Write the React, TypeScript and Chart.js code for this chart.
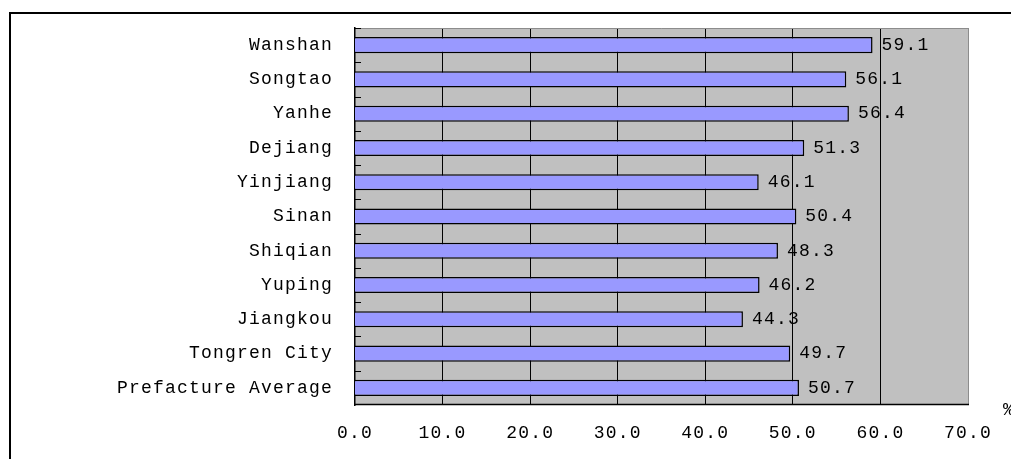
import { useEffect, useRef } from "react";
import { Chart, registerables } from "chart.js";

Chart.register(...registerables);

// Counties (top to bottom) and their rates, in percent
const counties = [
  "Wanshan",
  "Songtao",
  "Yanhe",
  "Dejiang",
  "Yinjiang",
  "Sinan",
  "Shiqian",
  "Yuping",
  "Jiangkou",
  "Tongren City",
  "Prefacture Average",
];
const rates = [59.1, 56.1, 56.4, 51.3, 46.1, 50.4, 48.3, 46.2, 44.3, 49.7, 50.7];
const axisMin = 0;
const axisMax = 70;
const axisStep = 10;
const unitLabel = "%";

const FONT_FAMILY = '"Liberation Mono", "DejaVu Sans Mono", monospace';
const FONT_SIZE = 18;
const LETTER_SPACING = "1.2px";

const PLOT = { left: 355, top: 28, right: 968, bottom: 405 };

const decorPlugin = {
  id: "decor",
  beforeDraw(chart: any) {
    chart.ctx.letterSpacing = LETTER_SPACING;
  },
  afterDatasetsDraw(chart: any) {
    const { ctx, chartArea } = chart;
    const xs = chart.scales.x;
    const ys = chart.scales.y;
    const meta = chart.getDatasetMeta(0);
    ctx.save();
    // plot frame: grey top and right, dark bottom
    ctx.lineWidth = 1;
    ctx.strokeStyle = "#8c8c8c";
    ctx.beginPath();
    ctx.moveTo(chartArea.left, chartArea.top + 0.5);
    ctx.lineTo(chartArea.right + 0.5, chartArea.top + 0.5);
    ctx.lineTo(chartArea.right + 0.5, chartArea.bottom);
    ctx.stroke();
    ctx.strokeStyle = "#000";
    ctx.lineWidth = 1.5;
    ctx.beginPath();
    ctx.moveTo(chartArea.left, chartArea.bottom - 0.5);
    ctx.lineTo(chartArea.right + 1, chartArea.bottom - 0.5);
    ctx.stroke();
    // short tick marks on the category axis, at category boundaries
    ctx.lineWidth = 1;
    const n = counties.length;
    const step = (chartArea.bottom - chartArea.top) / n;
    ctx.beginPath();
    for (let i = 0; i < n; i++) {
      const y = Math.round(ys.getPixelForValue(i) - step / 2) + 0.5;
      ctx.moveTo(chartArea.left, y);
      ctx.lineTo(chartArea.left + 6, y);
    }
    ctx.stroke();
    // value labels to the right of each bar
    ctx.fillStyle = "#000";
    ctx.font = `${FONT_SIZE}px ${FONT_FAMILY}`;
    ctx.textAlign = "left";
    ctx.textBaseline = "middle";
    meta.data.forEach((bar: any, i: number) => {
      const x = xs.getPixelForValue(rates[i]) + 9;
      ctx.fillText(rates[i].toFixed(1), x, bar.y);
    });
    ctx.restore();
  },
  afterDraw(chart: any) {
    const { ctx, width, height, chartArea } = chart;
    ctx.save();
    // outer border running off the right and bottom edges
    ctx.fillStyle = "#000";
    ctx.fillRect(9, 12, 2, height - 12);
    ctx.fillRect(9, 12, width - 9, 2);
    // unit mark beside the last value tick
    ctx.font = `${FONT_SIZE}px ${FONT_FAMILY}`;
    ctx.textAlign = "left";
    ctx.textBaseline = "middle";
    ctx.fillText(unitLabel, chartArea.right + 35, chartArea.bottom + 5);
    ctx.restore();
  },
};

export default function App() {
  const canvasRef = useRef<HTMLCanvasElement>(null);

  useEffect(() => {
    const canvas = canvasRef.current;
    if (!canvas) return;
    const chart = new Chart(canvas, {
      type: "bar",
      data: {
        labels: counties,
        datasets: [
          {
            data: rates,
            backgroundColor: "#9999ff",
            borderColor: "#000",
            borderWidth: 1.5,
            barPercentage: 0.47,
            categoryPercentage: 1,
          },
        ],
      },
      options: {
        indexAxis: "y",
        responsive: false,
        animation: false,
        devicePixelRatio: 1,
        layout: { padding: { top: 0, right: 0, left: 0, bottom: 0 } },
        plugins: {
          legend: { display: false },
          tooltip: { enabled: false },
        },
        scales: {
          x: {
            min: axisMin,
            max: axisMax,
            afterFit: (s: any) => {
              s.height = 459 - PLOT.bottom;
              s.paddingLeft = 0;
              s.paddingRight = 0;
            },
            ticks: {
              stepSize: axisStep,
              color: "#000",
              padding: 17,
              font: { family: FONT_FAMILY, size: FONT_SIZE },
              callback: (v: any) => Number(v).toFixed(1),
            },
            grid: {
              drawTicks: false,
              color: (c: any) =>
                c.tick && c.tick.value === axisMax ? "#8c8c8c" : "#000",
              lineWidth: (c: any) => (c.tick && c.tick.value === axisMin ? 0 : 1),
            },
            border: { display: false },
          },
          y: {
            afterFit: (s: any) => {
              s.width = PLOT.left;
              s.paddingTop = 0;
              s.paddingBottom = 0;
            },
            ticks: {
              color: "#000",
              padding: 22,
              font: { family: FONT_FAMILY, size: FONT_SIZE },
            },
            grid: { display: false, drawTicks: false },
            border: { display: true, color: "#000", width: 1.5 },
          },
        },
      },
      plugins: [
        {
          id: "plotBox",
          // pin the plot rectangle in place after the layout pass
          afterLayout(chart: any) {
            const ca = chart.chartArea;
            ca.left = PLOT.left;
            ca.top = PLOT.top;
            ca.right = PLOT.right;
            ca.bottom = PLOT.bottom;
            ca.width = PLOT.right - PLOT.left;
            ca.height = PLOT.bottom - PLOT.top;
            const xs = chart.scales.x;
            const ys = chart.scales.y;
            xs.left = PLOT.left;
            xs.right = PLOT.right;
            xs.width = PLOT.right - PLOT.left;
            xs.top = PLOT.bottom;
            xs.bottom = 459;
            xs.height = 459 - PLOT.bottom;
            ys.top = PLOT.top;
            ys.bottom = PLOT.bottom;
            ys.height = PLOT.bottom - PLOT.top;
            ys.left = 0;
            ys.right = PLOT.left;
            ys.width = PLOT.left;
            xs.configure();
            ys.configure();
          },
          beforeDraw(chart: any) {
            const { ctx, chartArea } = chart;
            ctx.save();
            ctx.fillStyle = "#c0c0c0";
            ctx.fillRect(
              chartArea.left,
              chartArea.top,
              chartArea.right - chartArea.left,
              chartArea.bottom - chartArea.top
            );
            ctx.restore();
          },
        },
        decorPlugin,
      ],
    });
    return () => chart.destroy();
  }, []);

  return (
    <canvas
      ref={canvasRef}
      width={1011}
      height={459}
      style={{ position: "absolute", left: 0, top: 0, background: "#fff" }}
    />
  );
}
